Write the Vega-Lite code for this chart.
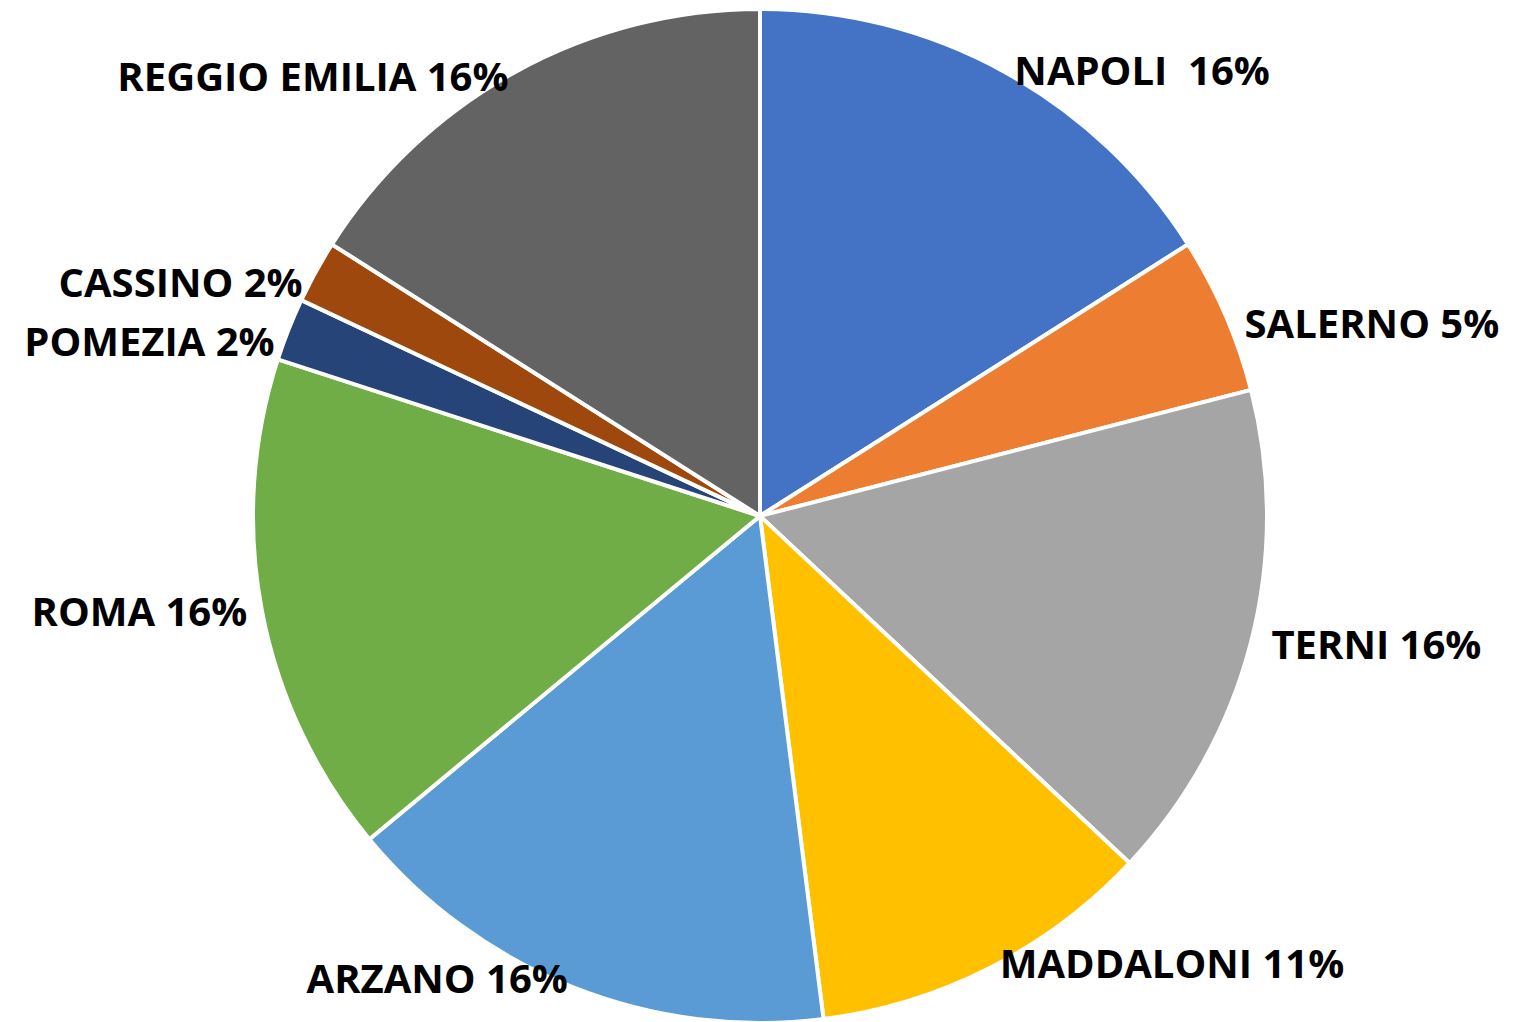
{
  "$schema": "https://vega.github.io/schema/vega-lite/v6.json",
  "width": 1526,
  "height": 1022,
  "autosize": {"type": "fit", "contains": "padding"},
  "padding": {"top": 10, "left": 0, "right": 6, "bottom": 0},
  "background": "white",
  "view": {"stroke": null},
  "data": {"values": [
    {"city": "NAPOLI", "label": "NAPOLI\u00a0 16%", "value": 16},
    {"city": "SALERNO", "label": "SALERNO 5%", "value": 5},
    {"city": "TERNI", "label": "TERNI 16%", "value": 16},
    {"city": "MADDALONI", "label": "MADDALONI 11%", "value": 11},
    {"city": "ARZANO", "label": "ARZANO 16%", "value": 16},
    {"city": "ROMA", "label": "ROMA 16%", "value": 16},
    {"city": "POMEZIA", "label": "POMEZIA 2%", "value": 2},
    {"city": "CASSINO", "label": "CASSINO 2%", "value": 2},
    {"city": "REGGIO EMILIA", "label": "REGGIO EMILIA 16%", "value": 16}
  ]},
  "transform": [
    {"window": [{"op": "row_number", "as": "i"}]},
    {"stack": "value", "groupby": [], "sort": [{"field": "i", "order": "ascending"}], "as": ["v0", "v1"]},
    {"calculate": "(datum.v0 + datum.v1) / 2", "as": "mid"}
  ],
  "layer": [
    {
      "mark": {"type": "arc", "outerRadius": 507, "stroke": "white", "strokeWidth": 4},
      "encoding": {
        "theta": {"field": "v0", "type": "quantitative", "scale": {"domain": [0, 100]}},
        "theta2": {"field": "v1"},
        "color": {
          "field": "city", "type": "nominal", "legend": null,
          "scale": {
            "domain": ["NAPOLI", "SALERNO", "TERNI", "MADDALONI", "ARZANO", "ROMA", "POMEZIA", "CASSINO", "REGGIO EMILIA"],
            "range": ["#4472C4", "#ED7D31", "#A5A5A5", "#FFC000", "#5B9BD5", "#70AD47", "#264478", "#9E480E", "#636363"]
          }
        }
      }
    },
    {
      "transform": [{"filter": {"field": "city", "oneOf": ["NAPOLI", "SALERNO"]}}],
      "mark": {"type": "text", "radius": 528, "align": "left", "baseline": "top", "font": "Open Sans", "fontWeight": "bold", "fontSize": 40, "color": "black"},
      "encoding": {"theta": {"field": "mid", "type": "quantitative"}, "text": {"field": "label"}}
    },
    {
      "transform": [{"filter": {"field": "city", "oneOf": ["TERNI"]}}],
      "mark": {"type": "text", "radius": 528, "align": "left", "baseline": "middle", "font": "Open Sans", "fontWeight": "bold", "fontSize": 40, "color": "black"},
      "encoding": {"theta": {"field": "mid", "type": "quantitative"}, "text": {"field": "label"}}
    },
    {
      "transform": [{"filter": {"field": "city", "oneOf": ["MADDALONI"]}}],
      "mark": {"type": "text", "radius": 528, "align": "left", "baseline": "bottom", "font": "Open Sans", "fontWeight": "bold", "fontSize": 40, "color": "black"},
      "encoding": {"theta": {"field": "mid", "type": "quantitative"}, "text": {"field": "label"}}
    },
    {
      "transform": [{"filter": {"field": "city", "oneOf": ["ARZANO"]}}],
      "mark": {"type": "text", "radius": 522, "align": "right", "baseline": "bottom", "font": "Open Sans", "fontWeight": "bold", "fontSize": 40, "color": "black"},
      "encoding": {"theta": {"field": "mid", "type": "quantitative"}, "text": {"field": "label"}}
    },
    {
      "transform": [{"filter": {"field": "city", "oneOf": ["ROMA"]}}],
      "mark": {"type": "text", "radius": 522, "align": "right", "baseline": "middle", "font": "Open Sans", "fontWeight": "bold", "fontSize": 40, "color": "black"},
      "encoding": {"theta": {"field": "mid", "type": "quantitative"}, "text": {"field": "label"}}
    },
    {
      "transform": [{"filter": {"field": "city", "oneOf": ["POMEZIA", "CASSINO", "REGGIO EMILIA"]}}],
      "mark": {"type": "text", "radius": 522, "align": "right", "baseline": "top", "font": "Open Sans", "fontWeight": "bold", "fontSize": 40, "color": "black"},
      "encoding": {"theta": {"field": "mid", "type": "quantitative"}, "text": {"field": "label"}}
    }
  ]
}
